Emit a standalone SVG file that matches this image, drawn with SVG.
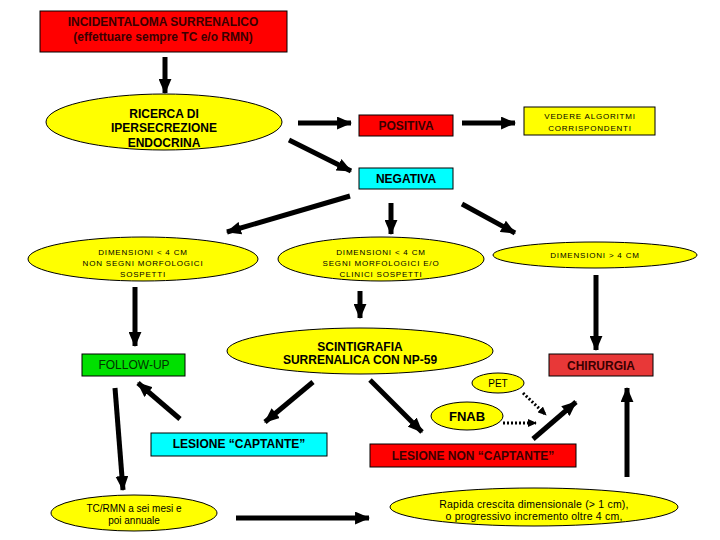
<svg xmlns="http://www.w3.org/2000/svg" width="720" height="540" viewBox="0 0 720 540">
<defs>
<marker id="ah" viewBox="0 0 14 12" refX="13" refY="6" markerWidth="15" markerHeight="13" markerUnits="userSpaceOnUse" orient="auto">
<path d="M0,0 L14,6 L0,12 Z" fill="#000"/>
</marker>
<marker id="ahs" viewBox="0 0 10 9" refX="9" refY="4.5" markerWidth="9" markerHeight="8" markerUnits="userSpaceOnUse" orient="auto">
<path d="M0,0 L10,4.5 L0,9 Z" fill="#000"/>
</marker>
</defs>
<style>
.b{stroke:#000;stroke-width:1}
.red{fill:#ff0000}
.red2{fill:#e83838}
.yel{fill:#ffff00}
.cyan{fill:#00ffff}
.grn{fill:#00e000}
text{font-family:"Liberation Sans",Arial,sans-serif;text-anchor:middle;fill:#000}
.t12{font-size:12px;font-weight:bold}
.sm{font-size:8px;letter-spacing:0.8px}
.dr{fill:#3a0000}
.c line{stroke:#000;stroke-width:5;marker-end:url(#ah)}
.c line.d{stroke-width:3;stroke-dasharray:2 2;marker-end:url(#ahs)}
</style>
<rect width="720" height="540" fill="#fff"/>
<g id="n-incidentaloma">
<rect class="b red" x="40" y="11" width="247" height="41"/>
<text class="t12 dr" x="163" y="26">INCIDENTALOMA SURRENALICO</text>
<text class="t12 dr" x="163" y="41">(effettuare sempre TC e/o RMN)</text>
</g>
<g id="n-ricerca">
<ellipse class="b yel" cx="164" cy="122" rx="118" ry="28"/>
<text class="t12" x="164" y="118">RICERCA DI</text>
<text class="t12" x="164" y="132">IPERSECREZIONE</text>
<text class="t12" x="164" y="147">ENDOCRINA</text>
</g>
<g id="n-positiva">
<rect class="b red" x="359" y="115" width="94" height="21"/>
<text class="t12 dr" x="406" y="130">POSITIVA</text>
</g>
<g id="n-vedere">
<rect class="b yel" x="524" y="107" width="131" height="28"/>
<text class="sm" x="590" y="119">VEDERE ALGORITMI</text>
<text class="sm" x="590" y="131">CORRISPONDENTI</text>
</g>
<g id="n-negativa">
<rect class="b cyan" x="359" y="168" width="94" height="21"/>
<text class="t12" x="406" y="183">NEGATIVA</text>
</g>
<g id="n-dim-left">
<ellipse class="b yel" cx="143" cy="259" rx="115" ry="22"/>
<text class="sm" x="143" y="255">DIMENSIONI &lt; 4 CM</text>
<text class="sm" x="143" y="266">NON SEGNI MORFOLOGICI</text>
<text class="sm" x="143" y="277">SOSPETTI</text>
</g>
<g id="n-dim-mid">
<ellipse class="b yel" cx="381" cy="259" rx="103" ry="22"/>
<text class="sm" x="381" y="255">DIMENSIONI &lt; 4 CM</text>
<text class="sm" x="381" y="266">SEGNI MORFOLOGICI E/O</text>
<text class="sm" x="381" y="277">CLINICI  SOSPETTI</text>
</g>
<g id="n-dim-right">
<ellipse class="b yel" cx="595" cy="255" rx="102" ry="13"/>
<text class="sm" x="595" y="258">DIMENSIONI &gt; 4 CM</text>
</g>
<g id="n-followup">
<rect class="b grn" x="82" y="354" width="103" height="22"/>
<text x="134" y="369" style="font-size:12px;fill:#003300">FOLLOW-UP</text>
</g>
<g id="n-scintigrafia">
<ellipse class="b yel" cx="360" cy="351" rx="133" ry="23"/>
<text class="t12" x="360" y="351">SCINTIGRAFIA</text>
<text class="t12" x="360" y="364">SURRENALICA CON NP-59</text>
</g>
<g id="n-chirurgia">
<rect class="b red2" x="549" y="354" width="104" height="22"/>
<text class="t12 dr" x="601" y="370">CHIRURGIA</text>
</g>
<g id="n-pet">
<ellipse class="b yel" cx="498" cy="383" rx="26" ry="10"/>
<text x="498" y="387" style="font-size:10px">PET</text>
</g>
<g id="n-fnab">
<ellipse class="b yel" cx="467" cy="416" rx="36" ry="14"/>
<text x="467" y="421" style="font-size:13px;font-weight:bold">FNAB</text>
</g>
<g id="n-captante">
<rect class="b cyan" x="151" y="433" width="176" height="23"/>
<text class="t12" x="239" y="448">LESIONE “CAPTANTE”</text>
</g>
<g id="n-noncaptante">
<rect class="b red" x="370" y="444" width="206" height="23"/>
<text class="t12 dr" x="473" y="460">LESIONE NON “CAPTANTE”</text>
</g>
<g id="n-tcrmn">
<ellipse class="b yel" cx="134" cy="513" rx="83" ry="18"/>
<text x="134" y="512" style="font-size:10px">TC/RMN a sei mesi e</text>
<text x="134" y="524" style="font-size:10px">poi annuale</text>
</g>
<g id="n-rapida">
<ellipse class="b yel" cx="534" cy="507" rx="144" ry="19"/>
<text x="534" y="508" style="font-size:10.5px;letter-spacing:0.2px">Rapida crescita dimensionale (&gt; 1 cm),</text>
<text x="534" y="520" style="font-size:10.5px;letter-spacing:0.2px">o progressivo incremento oltre 4 cm,</text>
</g>
<g id="connectors" class="c">
<line x1="165" y1="57" x2="165" y2="93"/>
<line x1="298" y1="123" x2="351" y2="123"/>
<line x1="462" y1="123" x2="515" y2="123"/>
<line x1="289" y1="140" x2="351" y2="171"/>
<line x1="350" y1="196" x2="227" y2="232"/>
<line x1="391" y1="203" x2="391" y2="234"/>
<line x1="462" y1="204" x2="515" y2="233"/>
<line x1="135" y1="287" x2="135" y2="346"/>
<line x1="360" y1="291" x2="360" y2="318"/>
<line x1="596" y1="275" x2="596" y2="350"/>
<line x1="313" y1="382" x2="265" y2="422"/>
<line x1="370" y1="380" x2="422" y2="432"/>
<line x1="180" y1="419" x2="138" y2="383"/>
<line x1="115" y1="388" x2="123" y2="490"/>
<line x1="533" y1="439" x2="576" y2="402"/>
<line x1="627" y1="477" x2="627" y2="388"/>
<line x1="236" y1="518" x2="369" y2="518"/>
<line class="d" x1="503" y1="423" x2="536" y2="423"/>
<line class="d" x1="523" y1="393" x2="546" y2="415"/>
</g>
</svg>
